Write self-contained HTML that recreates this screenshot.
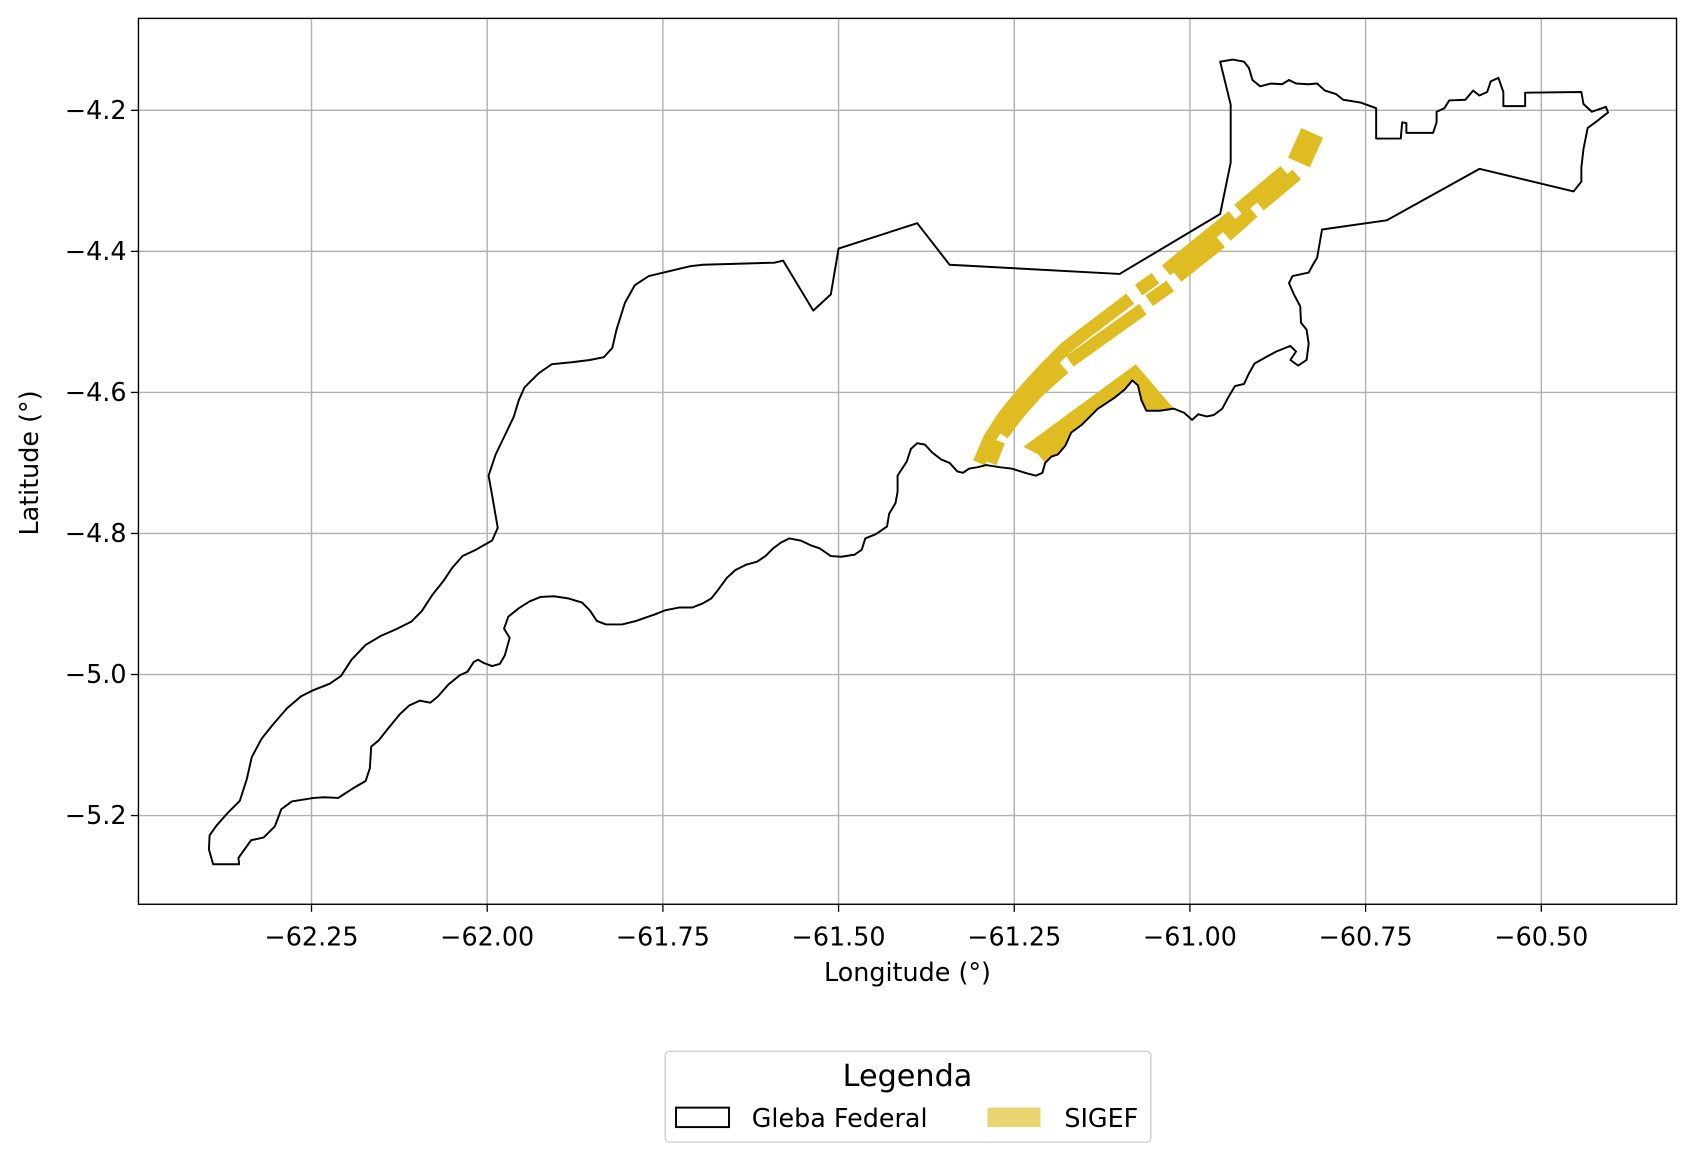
<!DOCTYPE html>
<html><head><meta charset="utf-8"><style>
html,body{margin:0;padding:0;background:#fff}
svg{display:block}
text{font-family:"DejaVu Sans","Liberation Sans",sans-serif;fill:#000}
</style></head><body>
<svg id="chart" width="1696" height="1163" viewBox="0 0 1568 1075.2" preserveAspectRatio="none" xmlns="http://www.w3.org/2000/svg">
<g id="grid"></g>
<g id="marks"></g>
<rect x="128" y="17" width="1422" height="819" fill="none" stroke="#000" stroke-width="1.3"/>
<g id="ticks"></g>
<text x="839" y="907" font-size="23.5" text-anchor="middle">Longitude (°)</text>
<text transform="translate(35,428) rotate(-90)" font-size="23.5" text-anchor="middle">Latitude (°)</text>
<g>
<rect x="615" y="972" width="449" height="84" rx="4" fill="#fff" stroke="#d0d0d0" stroke-width="1.3"/>
<text x="839" y="1004" font-size="28" text-anchor="middle">Legenda</text>
<rect x="625" y="1024" width="49" height="18" fill="none" stroke="#000" stroke-width="1.8"/>
<text x="695" y="1042" font-size="23.5">Gleba Federal</text>
<rect x="913" y="1024" width="49" height="18" fill="#ead472"/>
<text x="984" y="1042" font-size="23.5">SIGEF</text>
</g>
</svg>
<script>
const xTicks=[-62.25,-62.00,-61.75,-61.50,-61.25,-61.00,-60.75,-60.50];
const xTickLabels=["−62.25","−62.00","−61.75","−61.50","−61.25","−61.00","−60.75","−60.50"];
const yTicks=[-4.2,-4.4,-4.6,-4.8,-5.0,-5.2];
const yTickLabels=["−4.2","−4.4","−4.6","−4.8","−5.0","−5.2"];
const glebaLon=[-62.390,-62.353,-62.354,-62.336,-62.318,-62.302,-62.293,-62.278,-62.247,-62.232,-62.212,-62.192,-62.173,-62.167,-62.165,-62.155,-62.139,-62.124,-62.111,-62.096,-62.081,-62.070,-62.055,-62.039,-62.028,-62.019,-62.013,-62.004,-61.993,-61.982,-61.975,-61.968,-61.976,-61.970,-61.955,-61.939,-61.924,-61.905,-61.885,-61.865,-61.854,-61.844,-61.831,-61.808,-61.788,-61.774,-61.762,-61.747,-61.727,-61.708,-61.693,-61.681,-61.673,-61.659,-61.647,-61.631,-61.616,-61.604,-61.593,-61.582,-61.570,-61.554,-61.539,-61.527,-61.511,-61.496,-61.477,-61.467,-61.462,-61.447,-61.431,-61.428,-61.419,-61.416,-61.416,-61.403,-61.397,-61.388,-61.377,-61.367,-61.354,-61.342,-61.331,-61.323,-61.314,-61.302,-61.290,-61.271,-61.254,-61.231,-61.219,-61.210,-61.206,-61.197,-61.188,-61.177,-61.169,-61.154,-61.142,-61.131,-61.120,-61.108,-61.093,-61.082,-61.074,-61.069,-61.062,-61.043,-61.023,-61.008,-60.997,-60.988,-60.976,-60.966,-60.954,-60.946,-60.936,-60.923,-60.916,-60.908,-60.892,-60.877,-60.857,-60.849,-60.857,-60.846,-60.834,-60.831,-60.834,-60.842,-60.843,-60.852,-60.859,-60.854,-60.831,-60.825,-60.819,-60.812,-60.720,-60.588,-60.454,-60.443,-60.443,-60.440,-60.434,-60.423,-60.405,-60.408,-60.428,-60.440,-60.443,-60.523,-60.523,-60.554,-60.554,-60.561,-60.572,-60.577,-60.588,-60.597,-60.608,-60.631,-60.638,-60.649,-60.649,-60.654,-60.692,-60.692,-60.698,-60.700,-60.735,-60.735,-60.757,-60.782,-60.792,-60.808,-60.819,-60.831,-60.849,-60.859,-60.869,-60.885,-60.900,-60.911,-60.916,-60.923,-60.939,-60.957,-60.942,-60.942,-60.957,-61.100,-61.342,-61.388,-61.500,-61.511,-61.536,-61.579,-61.591,-61.693,-61.711,-61.770,-61.790,-61.804,-61.816,-61.822,-61.834,-61.854,-61.878,-61.908,-61.927,-61.947,-61.955,-61.962,-61.973,-61.988,-61.998,-61.993,-61.985,-61.993,-62.016,-62.035,-62.050,-62.062,-62.078,-62.093,-62.108,-62.130,-62.151,-62.173,-62.193,-62.208,-62.224,-62.247,-62.265,-62.285,-62.305,-62.321,-62.335,-62.342,-62.352,-62.370,-62.385,-62.395,-62.396];
const glebaLat=[-5.269,-5.269,-5.260,-5.235,-5.231,-5.215,-5.191,-5.180,-5.175,-5.174,-5.175,-5.162,-5.151,-5.133,-5.102,-5.094,-5.074,-5.056,-5.044,-5.037,-5.040,-5.031,-5.014,-5.001,-4.996,-4.982,-4.979,-4.984,-4.988,-4.985,-4.973,-4.948,-4.935,-4.918,-4.906,-4.896,-4.890,-4.889,-4.892,-4.898,-4.909,-4.924,-4.929,-4.929,-4.924,-4.919,-4.915,-4.909,-4.905,-4.905,-4.899,-4.892,-4.882,-4.863,-4.852,-4.844,-4.840,-4.832,-4.821,-4.813,-4.807,-4.810,-4.817,-4.821,-4.832,-4.833,-4.830,-4.823,-4.807,-4.801,-4.790,-4.772,-4.757,-4.741,-4.718,-4.698,-4.680,-4.672,-4.674,-4.685,-4.695,-4.700,-4.712,-4.714,-4.708,-4.706,-4.703,-4.706,-4.708,-4.715,-4.718,-4.714,-4.700,-4.691,-4.688,-4.675,-4.657,-4.646,-4.634,-4.623,-4.616,-4.608,-4.596,-4.583,-4.590,-4.611,-4.626,-4.626,-4.623,-4.629,-4.639,-4.631,-4.634,-4.632,-4.623,-4.608,-4.591,-4.588,-4.573,-4.559,-4.550,-4.542,-4.534,-4.542,-4.554,-4.562,-4.554,-4.531,-4.511,-4.501,-4.478,-4.461,-4.445,-4.435,-4.430,-4.419,-4.409,-4.369,-4.356,-4.283,-4.315,-4.301,-4.281,-4.255,-4.225,-4.217,-4.203,-4.195,-4.202,-4.191,-4.174,-4.175,-4.194,-4.194,-4.174,-4.154,-4.159,-4.174,-4.179,-4.172,-4.185,-4.186,-4.197,-4.202,-4.217,-4.232,-4.232,-4.218,-4.217,-4.240,-4.240,-4.197,-4.189,-4.185,-4.177,-4.172,-4.162,-4.163,-4.162,-4.157,-4.163,-4.162,-4.166,-4.157,-4.140,-4.131,-4.128,-4.131,-4.192,-4.274,-4.347,-4.432,-4.419,-4.360,-4.396,-4.461,-4.484,-4.413,-4.416,-4.419,-4.421,-4.435,-4.448,-4.473,-4.511,-4.537,-4.550,-4.554,-4.557,-4.560,-4.573,-4.593,-4.611,-4.634,-4.657,-4.688,-4.718,-4.746,-4.792,-4.810,-4.823,-4.832,-4.849,-4.867,-4.887,-4.910,-4.925,-4.936,-4.945,-4.958,-4.979,-5.002,-5.013,-5.022,-5.031,-5.048,-5.071,-5.091,-5.117,-5.148,-5.179,-5.197,-5.214,-5.228,-5.248];
const sigefTriLon=[-61.237,-61.077,-61.023,-61.043,-61.062,-61.069,-61.074,-61.082,-61.093,-61.108,-61.120,-61.131,-61.142,-61.154,-61.169,-61.177,-61.188,-61.197,-61.206,-61.216];
const sigefTriLat=[-4.677,-4.560,-4.623,-4.626,-4.626,-4.611,-4.590,-4.583,-4.596,-4.608,-4.616,-4.623,-4.634,-4.646,-4.657,-4.675,-4.688,-4.691,-4.700,-4.688];
const stripLon=[
[-61.300,-61.285,-61.265,-61.239,-61.208,-61.177,-61.154,-61.085],
[-61.073,-61.049],
[-61.034,-61.000,-60.939],
[-60.931,-60.865],
[-61.284,-61.272],
[-61.267,-61.248,-61.218,-61.179],
[-61.171,-61.067],
[-61.058,-61.028],
[-61.018,-60.956],
[-60.948,-60.910],
[-60.901,-60.848]];
const stripLat=[
[-4.700,-4.665,-4.634,-4.602,-4.568,-4.537,-4.519,-4.467],
[-4.455,-4.438],
[-4.427,-4.399,-4.350],
[-4.341,-4.286],
[-4.700,-4.669],
[-4.660,-4.634,-4.600,-4.565],
[-4.556,-4.482],
[-4.470,-4.449],
[-4.436,-4.387],
[-4.378,-4.344],
[-4.335,-4.291]];
const topBlockLon=[-60.845,-60.826];
const topBlockLat=[-4.274,-4.232];

const NS="http://www.w3.org/2000/svg";
function X(lon){return 288+(lon+62.25)*649.7;}
function Y(lat){return 102+(-4.2-lat)*652.0;}
function mk(tag,parent,attrs){const e=document.createElementNS(NS,tag);for(const k in attrs)e.setAttribute(k,attrs[k]);parent.appendChild(e);return e;}
const grid=document.getElementById('grid'),ticks=document.getElementById('ticks'),marks=document.getElementById('marks');
xTicks.forEach((v,i)=>{
  const g=mk('line',grid,{x1:X(v),x2:X(v),y1:17,y2:836,stroke:'#b0b0b0','stroke-width':1.3});
  
  
  const t=mk('line',ticks,{x1:X(v),x2:X(v),y1:836,y2:843,stroke:'#000','stroke-width':1.2});
  
  
  const l=mk('text',ticks,{x:X(v),y:874,'font-size':23.5,'text-anchor':'middle'});
  l.textContent=xTickLabels[i];
  
  
});
yTicks.forEach((v,i)=>{
  const g=mk('line',grid,{y1:Y(v),y2:Y(v),x1:128,x2:1550,stroke:'#b0b0b0','stroke-width':1.3});
  
  
  const t=mk('line',ticks,{y1:Y(v),y2:Y(v),x1:121,x2:128,stroke:'#000','stroke-width':1.2});
  
  
  const l=mk('text',ticks,{x:117,y:Y(v)+8,'font-size':23.5,'text-anchor':'end'});
  l.textContent=yTickLabels[i];
  
  
});
const SIG='#dfbd22';
const tri=mk('polygon',marks,{points:sigefTriLon.map((v,i)=>X(v)+','+Y(sigefTriLat[i])).join(' '),fill:SIG});


stripLon.forEach((arr,j)=>{
  const p=mk('polyline',marks,{points:arr.map((v,i)=>X(v)+','+Y(stripLat[j][i])).join(' '),fill:'none',stroke:SIG,'stroke-width':12});
  
  
});
const tb=mk('polyline',marks,{points:topBlockLon.map((v,i)=>X(v)+','+Y(topBlockLat[i])).join(' '),fill:'none',stroke:SIG,'stroke-width':22});


const gl=mk('polygon',marks,{points:glebaLon.map((v,i)=>X(v)+','+Y(glebaLat[i])).join(' '),fill:'none',stroke:'#000','stroke-width':1.8,'stroke-linejoin':'round'});


</script>
</body></html>
